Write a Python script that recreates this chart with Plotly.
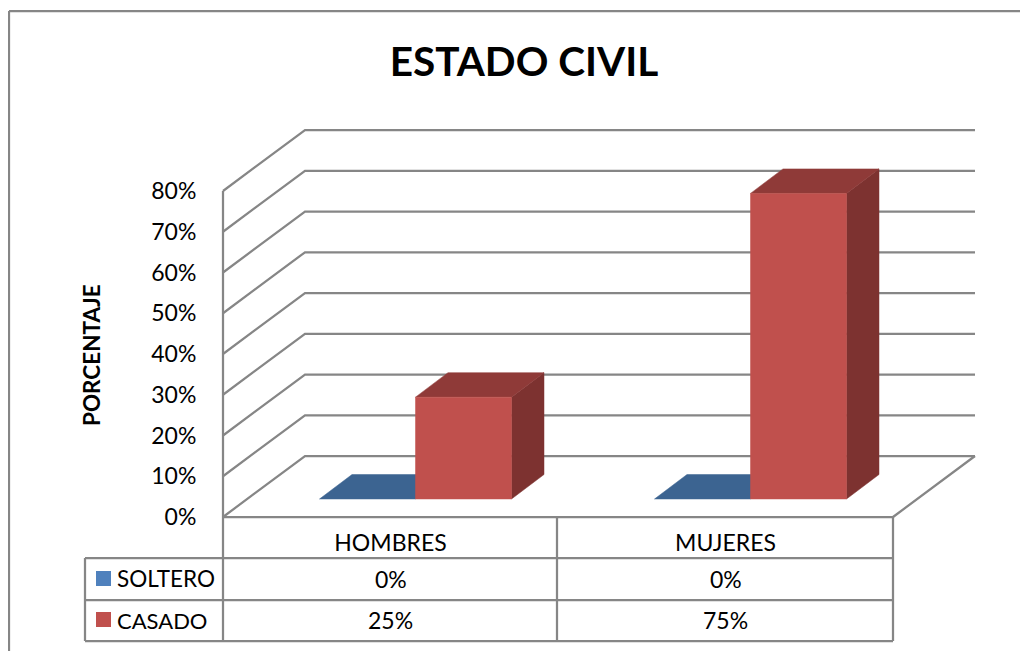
import plotly.graph_objects as go

# ---- data ----
categories = ["HOMBRES", "MUJERES"]
soltero = [0, 0]
casado = [25, 75]
y_ticks = [0, 10, 20, 30, 40, 50, 60, 70, 80]

# ---- page geometry (pixels in the browser window) ----
PAGE_W, PAGE_H = 1028, 651
BODY = 8  # default page margin around the figure
W, H = PAGE_W - BODY, PAGE_H - BODY
PLOT_L, PLOT_R = 223, 893
PLOT_B, PLOT_T = 517, 191
PX_X = (PLOT_R - PLOT_L) / len(categories)
PX_Y = (PLOT_B - PLOT_T) / y_ticks[-1]


def dx(px):
    return px / PX_X


def dy(px):
    return px / PX_Y


def paper_x(px):
    return (px - BODY) / W


def paper_y(px):
    return 1 - (px - BODY) / H


# projection offsets of the pseudo 3D box
WALL_X, WALL_Y = dx(82), dy(61)
BAR_FRONT_X, BAR_FRONT_Y = dx(25), dy(18)
BAR_DEPTH_X, BAR_DEPTH_Y = dx(32.5), dy(24.5)
BAR_W = dx(96)
GAP = dx(71.5)

C_LINE = "#868686"
C_TEXT = "#000000"
BLUE, BLUE_TOP = "#4F81BD", "#3C6491"
RED, RED_TOP, RED_SIDE = "#C0504D", "#8F3A38", "#7D3230"
FONT = "Lato"

fig = go.Figure()


def line_trace(xs, ys, name):
    fig.add_trace(go.Scatter(x=xs, y=ys, mode="lines", name=name, hoverinfo="skip",
                             line=dict(color=C_LINE, width=2.25), showlegend=False))


def face(xs, ys, color, name):
    fig.add_trace(go.Scatter(x=xs + xs[:1], y=ys + ys[:1], mode="lines", fill="toself",
                             fillcolor=color, line=dict(color=color, width=0.5),
                             name=name, hoverinfo="skip", showlegend=False))


# walls and floor
n = len(categories)
for v in y_ticks:
    line_trace([0, WALL_X, n + WALL_X], [v, v + WALL_Y, v + WALL_Y], f"grid {v}")
line_trace([0, 0], [y_ticks[0], y_ticks[-1]], "left edge")
line_trace([0, n, n + WALL_X], [0, 0, WALL_Y], "floor edge")


def bar(x0, value, front, top, side, name):
    x1 = x0 + BAR_W
    y0 = BAR_FRONT_Y
    y1 = BAR_FRONT_Y + value
    if value > 0:
        face([x1, x1 + BAR_DEPTH_X, x1 + BAR_DEPTH_X, x1],
             [y0, y0 + BAR_DEPTH_Y, y1 + BAR_DEPTH_Y, y1], side, name + " side")
    face([x0, x0 + BAR_DEPTH_X, x1 + BAR_DEPTH_X, x1],
         [y1, y1 + BAR_DEPTH_Y, y1 + BAR_DEPTH_Y, y1], top, name + " top")
    if value > 0:
        face([x0, x1, x1, x0], [y0, y0, y1, y1], front, name)


for i, cat in enumerate(categories):
    start = i + BAR_FRONT_X + GAP
    bar(start, soltero[i], BLUE, BLUE_TOP, BLUE_TOP, f"SOLTERO {cat}")
    bar(start + BAR_W, casado[i], RED, RED_TOP, RED_SIDE, f"CASADO {cat}")

# ---- data table under the chart ----
TBL_L, TBL_M, TBL_R = 85, 557, 893
ROWS = [517, 558, 600, 641]
LEFT_EDGE, TOP_EDGE = 9, 11


def pline(x0, y0, x1, y1, width=2.25):
    return dict(type="line", xref="paper", yref="paper",
                x0=paper_x(x0), x1=paper_x(x1), y0=paper_y(y0), y1=paper_y(y1),
                line=dict(color=C_LINE, width=width))


shapes = [
    pline(LEFT_EDGE, TOP_EDGE, PAGE_W, TOP_EDGE),
    pline(LEFT_EDGE, TOP_EDGE, LEFT_EDGE, PAGE_H),
    pline(PLOT_L, ROWS[0], PLOT_L, ROWS[3]),
    pline(TBL_M, ROWS[0], TBL_M, ROWS[3]),
    pline(TBL_R, ROWS[0], TBL_R, ROWS[3]),
    pline(TBL_L, ROWS[1], TBL_L, ROWS[3]),
    pline(TBL_L, ROWS[1], TBL_R, ROWS[1]),
    pline(TBL_L, ROWS[2], TBL_R, ROWS[2]),
    pline(TBL_L, ROWS[3], TBL_R, ROWS[3]),
]
for y, col in ((571, BLUE), (612, RED)):
    shapes.append(dict(type="rect", xref="paper", yref="paper", line=dict(width=0), fillcolor=col,
                       x0=paper_x(96), x1=paper_x(111), y0=paper_y(y), y1=paper_y(y + 15)))


def note(x, y, text, anchor="center", size=23, **kw):
    return dict(x=paper_x(x), y=paper_y(y), xref="paper", yref="paper", text=text, showarrow=False,
                xanchor=anchor, yanchor="middle", font=dict(family=FONT, size=size, color=C_TEXT), **kw)


annotations = [
    note(115, 578, "SOLTERO", "left", size=22.5),
    note(115, 620, "CASADO", "left", size=22),
    note(91, 355, "<b>PORCENTAJE</b>", size=22.5, textangle=-90),
]
for i in range(n):
    cx = PLOT_L + (i + 0.5) * PX_X
    annotations.append(note(cx, 579, f"{soltero[i]}%"))
    annotations.append(note(cx, 620, f"{casado[i]}%"))

fig.update_layout(
    width=W, height=H, autosize=False,
    margin=dict(l=0, r=0, t=0, b=0),
    paper_bgcolor="#FFFFFF", plot_bgcolor="#FFFFFF",
    showlegend=False,
    title=dict(text="<b>ESTADO CIVIL</b>", x=paper_x(524), xanchor="center",
               y=paper_y(62), yanchor="middle",
               font=dict(family=FONT, size=40.5, color=C_TEXT)),
    xaxis=dict(range=[-(PLOT_L - BODY) / PX_X, (PAGE_W - PLOT_L) / PX_X], domain=[0, 1], anchor="free",
               position=paper_y(PLOT_B), tickmode="array",
               tickvals=[i + 0.5 for i in range(n)], ticktext=categories,
               showgrid=False, zeroline=False, showline=False,
               ticks="outside", ticklen=5, tickcolor="rgba(0,0,0,0)",
               tickfont=dict(family=FONT, size=23, color=C_TEXT)),
    yaxis=dict(range=[-(PAGE_H - PLOT_B) / PX_Y, (PLOT_B - BODY) / PX_Y], domain=[0, 1], anchor="free",
               position=paper_x(PLOT_L), tickmode="array", tickvals=y_ticks,
               ticktext=[f"{v}%" for v in y_ticks],
               showgrid=False, zeroline=False, showline=False,
               ticks="outside", ticklen=22, tickcolor="rgba(0,0,0,0)",
               tickfont=dict(family=FONT, size=23, color=C_TEXT)),
    shapes=shapes,
    annotations=annotations,
)

fig.write_html("out.html")
